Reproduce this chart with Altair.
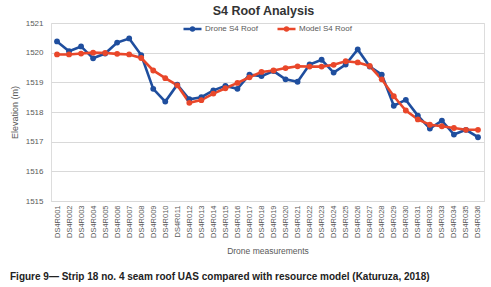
import altair as alt
import pandas as pd

labels = [f"DS4R{i:03d}" for i in range(1, 37)]
drone = [1520.38, 1520.05, 1520.21, 1519.81, 1519.97, 1520.34, 1520.48, 1519.92,
         1518.78, 1518.35, 1518.92, 1518.43, 1518.50, 1518.73, 1518.88, 1518.78,
         1519.26, 1519.21, 1519.38, 1519.10, 1519.02, 1519.60, 1519.76, 1519.33,
         1519.60, 1520.11, 1519.53, 1519.26, 1518.21, 1518.41, 1517.88, 1517.44,
         1517.71, 1517.24, 1517.40, 1517.15]
model = [1519.94, 1519.94, 1519.97, 1520.00, 1519.99, 1519.96, 1519.94, 1519.82,
         1519.40, 1519.14, 1518.90, 1518.31, 1518.40, 1518.62, 1518.80, 1518.98,
         1519.17, 1519.35, 1519.40, 1519.48, 1519.54, 1519.53, 1519.53, 1519.59,
         1519.71, 1519.67, 1519.55, 1519.10, 1518.53, 1518.05, 1517.75, 1517.57,
         1517.52, 1517.46, 1517.40, 1517.40]
series = ["Drone S4 Roof", "Model S4 Roof"]
colors = ["#1F4E9E", "#E9472A"]
caption = "Figure 9\u2014 Strip 18 no. 4 seam roof UAS compared with resource model (Katuruza, 2018)"

df = pd.DataFrame({
    "label": labels * 2,
    "value": drone + model,
    "series": [series[0]] * len(labels) + [series[1]] * len(labels),
})

FONT = "Liberation Sans"
GRAY = "#595959"

legend_symbol = "M-1,0L1,0M0.16,0A0.16,0.16,0,1,1,-0.16,0A0.16,0.16,0,1,1,0.16,0Z"

lines = alt.Chart(df).mark_line(
    strokeWidth=2.6,
    point=alt.OverlayMarkDef(filled=True, size=34, opacity=1),
).encode(
    x=alt.X("label:N", sort=labels, title="Drone measurements",
            scale=alt.Scale(type="point", padding=0.5),
            axis=alt.Axis(labelAngle=270, labelFontSize=7.5, labelColor=GRAY, labelFont=FONT,
                          ticks=False, domainColor="#D9D9D9", domainWidth=1, labelPadding=4,
                          titleFontSize=8.5, titleFont=FONT, titleFontWeight="normal",
                          titleColor=GRAY, titlePadding=9, grid=False)),
    y=alt.Y("value:Q", title="Elevation (m)",
            scale=alt.Scale(domain=[1515, 1521], zero=False, nice=False),
            axis=alt.Axis(values=[1515, 1516, 1517, 1518, 1519, 1520, 1521], format="d",
                          labelFontSize=8, labelColor=GRAY, labelFont=FONT, ticks=False,
                          domain=False, labelPadding=8, gridColor="#D9D9D9", gridWidth=1,
                          titleFontSize=9, titleFont=FONT, titleFontWeight="normal",
                          titleColor=GRAY, titlePadding=6)),
    color=alt.Color("series:N", scale=alt.Scale(domain=series, range=colors),
                    legend=alt.Legend(title=None, orient="none", direction="horizontal",
                                      legendX=131, legendY=-5, symbolType=legend_symbol,
                                      symbolSize=324, symbolStrokeWidth=2.6, labelFontSize=8,
                                      labelFont=FONT, labelColor=GRAY, labelOffset=2,
                                      columnPadding=14, padding=0)),
)

cap = alt.Chart(pd.DataFrame({"t": [caption]})).mark_text(
    align="left", baseline="middle", fontSize=10, fontWeight="bold", font=FONT, color="#222222"
).encode(x=alt.value(-41), y=alt.value(254), text="t:N")

chart = alt.layer(lines, cap).properties(
    width=433, height=178,
    title=alt.TitleParams("S4 Roof Analysis", fontSize=12.5, fontWeight="bold", font=FONT,
                          color="#333333", anchor="middle", dx=-4, offset=2, dy=1),
    autosize=alt.AutoSizeParams(type="none"),
    padding={"left": 51, "top": 23, "right": 7, "bottom": 86},
).configure_view(stroke=None).configure(background="white")

chart.save("out.html", embed_options={"renderer": "svg", "actions": False})
